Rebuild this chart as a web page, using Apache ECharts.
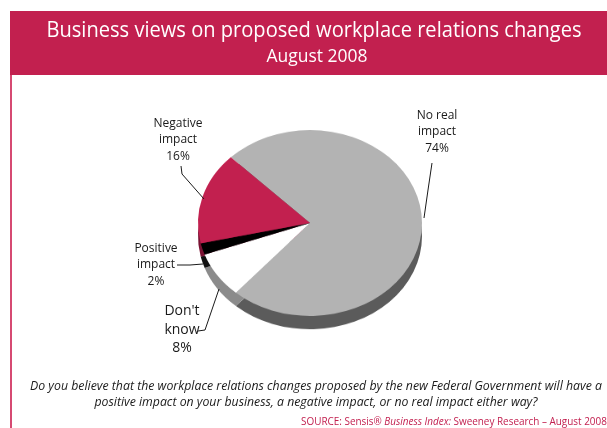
<!DOCTYPE html>
<html>
<head>
<meta charset="utf-8">
<script src="https://cdn.jsdelivr.net/npm/echarts@6/dist/echarts.min.js"></script>
<style>
  html, body { margin: 0; padding: 0; background: #ffffff; }
  #wrap { position: relative; width: 607px; height: 428px; overflow: hidden; }
  #pie, #chart { position: absolute; left: 0; top: 0; width: 607px; height: 428px; }
  /* the pie is drawn as a circle and flattened into a tilted disc */
  #pie { transform: scaleY(0.83); transform-origin: 0 223px; }
</style>
</head>
<body>
<div id="wrap">
  <div id="pie"></div>
  <div id="chart"></div>
</div>
<script>
// Survey answers, in drawing order (clockwise from the top-left)
const categories = ['No real\nimpact', "Don't\nknow", 'Positive\nimpact', 'Negative\nimpact'];
const shares = [74, 8, 2, 16];
const faceColors = ['#b3b3b3', '#ffffff', '#000000', '#c2204f'];
const sideColors = ['#5b5b5b', '#8b8b8b', '#111111', '#7a1233'];

const titleText = 'Business views on proposed workplace relations changes';
const subtitleText = 'August 2008';
const questionLines = [
  'Do you believe that the workplace relations changes proposed by the new Federal Government will have a',
  'positive impact on your business, a negative impact, or no real impact either way?'
];

const FONT = '"Open Sans", sans-serif';
const CRIMSON = '#c2204f';

// Where each label sits and how its leader line runs
const labelSpots = [
  { x: 437, y: 132, size: 12, line: [[432, 163], [428, 190], [424, 218]] },
  { x: 182, y: 330, size: 14, line: [[198, 331], [205, 330], [219, 289]] },
  { x: 156, y: 265, size: 12, line: [[177, 265], [190, 265], [203, 264]] },
  { x: 178, y: 140, size: 12, line: [[181, 166], [182, 174], [204, 199]] }
];

// horizontal squeeze so a line of text spans the wanted width
const measureCtx = document.createElement('canvas').getContext('2d');
function squeeze(text, font, width) {
  measureCtx.font = font;
  return width / measureCtx.measureText(text).width;
}

const START = 135;
const CX = 310, CY = 223, R = 112, DEPTH = 16;

// ---- tilted disc: rim + face
const pieChart = echarts.init(document.getElementById('pie'), null, { renderer: 'canvas' });
pieChart.setOption({
  animation: false,
  series: [
    {
      type: 'pie', silent: true,
      center: [CX, CY + DEPTH], radius: R,
      startAngle: START, clockwise: true,
      label: { show: false }, labelLine: { show: false },
      data: categories.map((name, i) => ({ name, value: shares[i], itemStyle: { color: sideColors[i] } })),
      z: 1
    },
    {
      type: 'pie', silent: true,
      center: [CX, CY], radius: R,
      startAngle: START, clockwise: true,
      label: { show: false }, labelLine: { show: false },
      data: categories.map((name, i) => ({ name, value: shares[i], itemStyle: { color: faceColors[i] } })),
      z: 2
    }
  ]
});

// ---- heading, labels, question and source
const titleFont = '22px ' + FONT;
const subFont = '18px ' + FONT;
const qFont = 'italic 13px ' + FONT;
const srcFont = '11px ' + FONT;
const srcPlain = 'SOURCE: Sensis® Business Index: Sweeney Research – August 2008';

const chart = echarts.init(document.getElementById('chart'), null, { renderer: 'canvas' });
chart.setOption({
  animation: false,
  graphic: [
    { type: 'rect', shape: { x: 10, y: 11, width: 597, height: 64 }, style: { fill: CRIMSON }, z: 0 },
    { type: 'rect', shape: { x: 10, y: 75, width: 2, height: 353 }, style: { fill: '#d64a72' }, z: 0 },
    { type: 'text', x: 314, y: 31, scaleX: squeeze(titleText, titleFont, 535),
      style: { text: titleText, fill: '#ffffff', font: titleFont, textAlign: 'center', textVerticalAlign: 'middle' }, z: 5 },
    { type: 'text', x: 317, y: 57, scaleX: squeeze(subtitleText, subFont, 101),
      style: { text: subtitleText, fill: '#ffffff', font: subFont, textAlign: 'center', textVerticalAlign: 'middle' }, z: 5 },
    { type: 'text', x: 316, y: 386, scaleX: squeeze(questionLines[0], qFont, 572),
      style: { text: questionLines[0], fill: '#1a1a1a', font: qFont, textAlign: 'center', textVerticalAlign: 'middle' }, z: 5 },
    { type: 'text', x: 316, y: 402, scaleX: squeeze(questionLines[1], qFont, 443),
      style: { text: questionLines[1], fill: '#1a1a1a', font: qFont, textAlign: 'center', textVerticalAlign: 'middle' }, z: 5 },
    {
      type: 'text', x: 301, y: 422, scaleX: squeeze(srcPlain, srcFont, 311),
      style: {
        text: '{n|SOURCE: Sensis® }{i|Business Index:}{n| Sweeney Research – August 2008}',
        textVerticalAlign: 'middle',
        rich: {
          n: { fill: CRIMSON, font: srcFont },
          i: { fill: CRIMSON, font: 'italic ' + srcFont }
        }
      },
      z: 5
    }
  ],
  series: [
    {
      // invisible copy of the pie that carries the labels
      type: 'pie', silent: true,
      center: [CX, CY], radius: R,
      startAngle: START, clockwise: true,
      itemStyle: { color: 'rgba(0,0,0,0)' },
      data: categories.map((name, i) => ({
        name, value: shares[i],
        label: { fontSize: labelSpots[i].size, lineHeight: labelSpots[i].size + 4.5 }
      })),
      label: {
        show: true,
        formatter: p => p.name + '\n' + p.value + '%',
        color: '#1a1a1a',
        fontFamily: FONT,
        align: 'center'
      },
      labelLine: { show: true, lineStyle: { color: '#1a1a1a', width: 1 } },
      labelLayout: function (params) {
        const s = labelSpots[params.dataIndex];
        return { x: s.x, y: s.y, align: 'center', verticalAlign: 'middle', labelLinePoints: s.line };
      }
    }
  ]
});
</script>
</body>
</html>
